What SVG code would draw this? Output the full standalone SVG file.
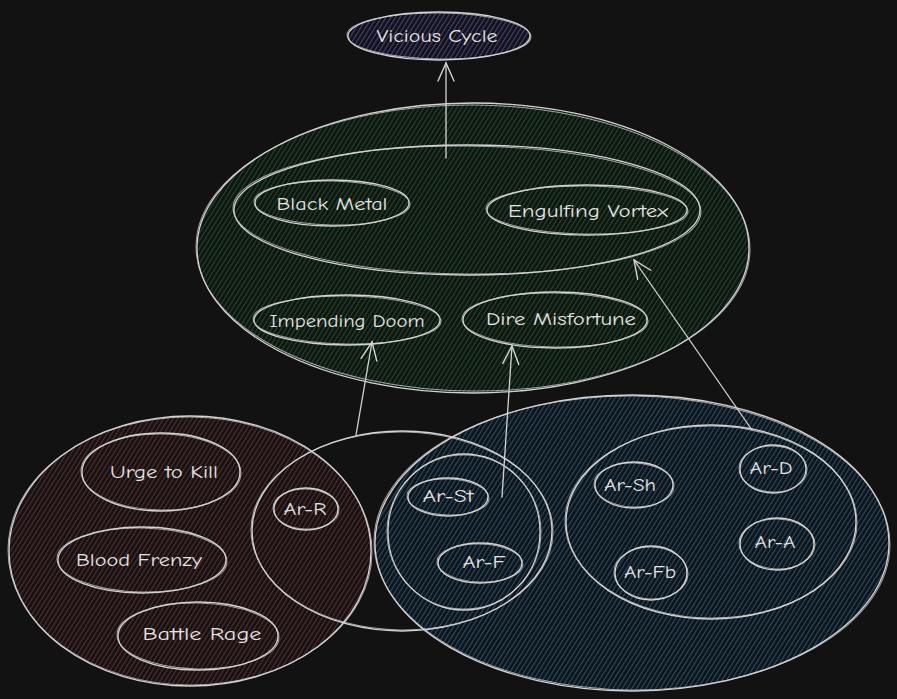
<svg xmlns="http://www.w3.org/2000/svg" width="897" height="699" viewBox="0 0 897 699">
<defs>
<pattern id="hG" patternUnits="userSpaceOnUse" width="4" height="8" patternTransform="rotate(32)"><rect x="0" y="0" width="1.2" height="8" fill="#1b4a24"/></pattern>
<pattern id="hR" patternUnits="userSpaceOnUse" width="4" height="8" patternTransform="rotate(32)"><rect x="0" y="0" width="1.2" height="8" fill="#582b2b"/></pattern>
<pattern id="hB" patternUnits="userSpaceOnUse" width="4" height="8" patternTransform="rotate(32)"><rect x="0" y="0" width="1.2" height="8" fill="#1f4c6d"/></pattern>
<pattern id="hP" patternUnits="userSpaceOnUse" width="4" height="8" patternTransform="rotate(32)"><rect x="0" y="0" width="1.2" height="8" fill="#403e7c"/></pattern>
<marker id="ah" markerWidth="24" markerHeight="24" refX="20" refY="12" orient="auto" markerUnits="userSpaceOnUse"><path d="M2,4 L20,12 L2,20" fill="none" stroke="#d4d4d4" stroke-width="1.4" stroke-linecap="round"/></marker>
</defs>
<style>
.o{fill:none;stroke:#d4d4d4;stroke-width:1.3}
.o2{fill:none;stroke:#cfcfcf;stroke-width:1;opacity:.75}
.fG{fill:url(#hG)}
.fR{fill:url(#hR)}
.fB{fill:url(#hB)}
.fP{fill:url(#hP)}
.t{font-family:"Comic Neue","Liberation Sans",sans-serif;font-size:19px;fill:#e3e3e3;text-anchor:middle}
.c{fill:none;stroke:#d4d4d4;stroke-width:1.3;stroke-linecap:round}
</style>
<rect width="897" height="699" fill="#121212"/>

<g id="vicious-cycle">
<ellipse cx="439" cy="36" rx="91" ry="24" class="fP"/>
<ellipse cx="439" cy="36" rx="91" ry="24" class="o"/>
<ellipse cx="439" cy="36" rx="92" ry="23" class="o2" transform="rotate(0.6 439 36)"/>
<text class="t" x="437" y="42" textLength="121" lengthAdjust="spacingAndGlyphs">Vicious Cycle</text>
</g>

<g id="green-group">
<ellipse cx="473" cy="248" rx="276" ry="145" class="fG"/>
<ellipse cx="473" cy="248" rx="276" ry="145" class="o"/>
<ellipse cx="473" cy="248" rx="277" ry="143" class="o2" transform="rotate(0.4 473 248)"/>
</g>
<g id="top-group">
<ellipse cx="467" cy="210" rx="233" ry="65" class="o"/>
<ellipse cx="467" cy="210" rx="234" ry="64" class="o2" transform="rotate(0.5 467 210)"/>
</g>
<g id="black-metal">
<ellipse cx="332" cy="203" rx="77" ry="23" class="o"/>
<ellipse cx="332" cy="203" rx="78" ry="22" class="o2" transform="rotate(1 332 203)"/>
<text class="t" x="332" y="210" textLength="111" lengthAdjust="spacingAndGlyphs">Black Metal</text>
</g>
<g id="engulfing-vortex">
<ellipse cx="587" cy="210" rx="100" ry="25" class="o"/>
<ellipse cx="587" cy="210" rx="101" ry="24" class="o2" transform="rotate(0.8 587 210)"/>
<text class="t" x="588" y="217" textLength="160" lengthAdjust="spacingAndGlyphs">Engulfing Vortex</text>
</g>
<g id="impending-doom">
<ellipse cx="347" cy="320" rx="93" ry="25" class="o"/>
<ellipse cx="347" cy="320" rx="94" ry="24" class="o2" transform="rotate(0.8 347 320)"/>
<text class="t" x="347" y="327" textLength="155" lengthAdjust="spacingAndGlyphs">Impending Doom</text>
</g>
<g id="dire-misfortune">
<ellipse cx="555" cy="320" rx="92" ry="28" class="o"/>
<ellipse cx="555" cy="320" rx="93" ry="27" class="o2" transform="rotate(0.8 555 320)"/>
<text class="t" x="561" y="325" textLength="150" lengthAdjust="spacingAndGlyphs">Dire Misfortune</text>
</g>

<g id="red-group">
<ellipse cx="190" cy="551" rx="181" ry="135" class="fR"/>
<ellipse cx="190" cy="551" rx="181" ry="135" class="o"/>
<ellipse cx="190" cy="551" rx="182" ry="134" class="o2" transform="rotate(0.6 190 551)"/>
</g>
<g id="blue-group">
<ellipse cx="632" cy="543" rx="257" ry="148" class="fB"/>
<ellipse cx="632" cy="543" rx="257" ry="148" class="o"/>
<ellipse cx="632" cy="543" rx="258" ry="147" class="o2" transform="rotate(0.5 632 543)"/>
</g>
<g id="middle-group">
<ellipse cx="402" cy="531" rx="150" ry="100" class="o"/>
<ellipse cx="402" cy="531" rx="151" ry="99" class="o2" transform="rotate(0.5 402 531)"/>
</g>
<g id="urge-to-kill">
<ellipse cx="161" cy="472" rx="79" ry="39" class="o"/>
<ellipse cx="161" cy="472" rx="80" ry="38" class="o2" transform="rotate(1 161 472)"/>
<text class="t" x="164" y="478" textLength="108" lengthAdjust="spacingAndGlyphs">Urge to Kill</text>
</g>
<g id="blood-frenzy">
<ellipse cx="142" cy="560" rx="84" ry="33" class="o"/>
<ellipse cx="142" cy="560" rx="85" ry="32" class="o2" transform="rotate(1 142 560)"/>
<text class="t" x="139" y="566" textLength="126" lengthAdjust="spacingAndGlyphs">Blood Frenzy</text>
</g>
<g id="battle-rage">
<ellipse cx="198" cy="636" rx="80" ry="34" class="o"/>
<ellipse cx="198" cy="636" rx="81" ry="33" class="o2" transform="rotate(1 198 636)"/>
<text class="t" x="202" y="640" textLength="119" lengthAdjust="spacingAndGlyphs">Battle Rage</text>
</g>
<g id="ar-r">
<ellipse cx="306" cy="509" rx="32" ry="21" class="o"/>
<ellipse cx="306" cy="509" rx="33" ry="20" class="o2" transform="rotate(2 306 509)"/>
<text class="t" x="305" y="515" textLength="43" lengthAdjust="spacingAndGlyphs">Ar-R</text>
</g>
<g id="st-f-group">
<ellipse cx="464" cy="532" rx="76" ry="78" class="o"/>
<ellipse cx="464" cy="532" rx="77" ry="77" class="o2" transform="rotate(1 464 532)"/>
</g>
<g id="ar-st">
<ellipse cx="448" cy="497" rx="40" ry="19" class="o"/>
<ellipse cx="448" cy="497" rx="41" ry="18" class="o2" transform="rotate(2 448 497)"/>
<text class="t" x="448" y="502" textLength="51" lengthAdjust="spacingAndGlyphs">Ar-St</text>
</g>
<g id="ar-f">
<ellipse cx="480" cy="563" rx="42" ry="20" class="o"/>
<ellipse cx="480" cy="563" rx="43" ry="19" class="o2" transform="rotate(2 480 563)"/>
<text class="t" x="484" y="568" textLength="43" lengthAdjust="spacingAndGlyphs">Ar-F</text>
</g>
<g id="right-group">
<ellipse cx="711" cy="522" rx="145" ry="97" class="o"/>
<ellipse cx="711" cy="522" rx="146" ry="96" class="o2" transform="rotate(0.6 711 522)"/>
</g>
<g id="ar-sh">
<ellipse cx="634" cy="485" rx="39" ry="23" class="o"/>
<ellipse cx="634" cy="485" rx="40" ry="22" class="o2" transform="rotate(2 634 485)"/>
<text class="t" x="630" y="491" textLength="52" lengthAdjust="spacingAndGlyphs">Ar-Sh</text>
</g>
<g id="ar-d">
<ellipse cx="773" cy="469" rx="33" ry="24" class="o"/>
<ellipse cx="773" cy="469" rx="34" ry="23" class="o2" transform="rotate(2 773 469)"/>
<text class="t" x="771" y="474" textLength="43" lengthAdjust="spacingAndGlyphs">Ar-D</text>
</g>
<g id="ar-a">
<ellipse cx="777" cy="544" rx="37" ry="26" class="o"/>
<ellipse cx="777" cy="544" rx="38" ry="25" class="o2" transform="rotate(2 777 544)"/>
<text class="t" x="775" y="548" textLength="41" lengthAdjust="spacingAndGlyphs">Ar-A</text>
</g>
<g id="ar-fb">
<ellipse cx="651" cy="573" rx="36" ry="27" class="o"/>
<ellipse cx="651" cy="573" rx="37" ry="26" class="o2" transform="rotate(2 651 573)"/>
<text class="t" x="650" y="578" textLength="52" lengthAdjust="spacingAndGlyphs">Ar-Fb</text>
</g>

<g id="connectors">
<path class="c" d="M446,158 L446,63" marker-end="url(#ah)"/>
<path class="c" d="M356,435 L372,342" marker-end="url(#ah)"/>
<path class="c" d="M502,497 L512,346" marker-end="url(#ah)"/>
<path class="c" d="M752,430 L634,260" marker-end="url(#ah)"/>
</g>
</svg>
